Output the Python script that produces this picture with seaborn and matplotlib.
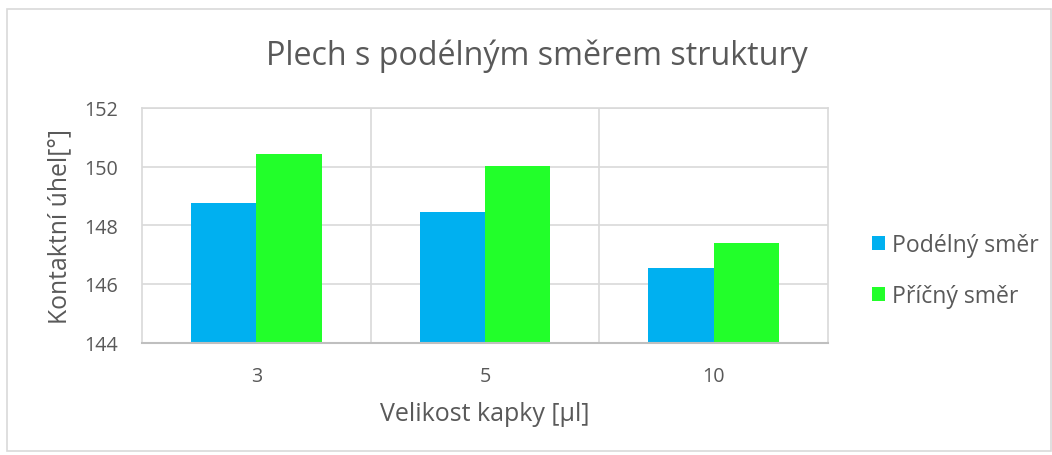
import seaborn as sns
import matplotlib.pyplot as plt
import pandas as pd
from matplotlib.patches import Rectangle

# data
kapky = ['3', '5', '10']
podelny = [148.75, 148.44, 146.54]
pricny = [150.43, 150.01, 147.40]
serie = ['Podélný směr', 'Příčný směr']

df = pd.DataFrame({
    'kapka': kapky * 2,
    'uhel': podelny + pricny,
    'smer': [serie[0]] * 3 + [serie[1]] * 3,
})

sns.set_style('white')
plt.rcParams['font.family'] = ['Open Sans', 'DejaVu Sans']
text_col = '#595959'
grid_col = '#D9D9D9'

fig = plt.figure(figsize=(10.52, 4.56), dpi=100)
ax = fig.add_axes([142 / 1052, 1 - 343.5 / 456, (828 - 142) / 1052, (343.5 - 109) / 456])

sns.barplot(data=df, x='kapka', y='uhel', hue='smer', order=kapky,
            palette=['#00B0F0', '#22FF2A'], width=0.57, gap=0,
            saturation=1, linewidth=0, ax=ax, legend=True)

ax.set_ylim(144, 152)
ax.set_xlim(-0.5, 2.5)
ax.set_yticks([144, 146, 148, 150, 152])
ax.set_xticks([0, 1, 2])
ax.set_xticks([0.5, 1.5], minor=True)
ax.grid(axis='y', color=grid_col, linewidth=1.2)
ax.grid(axis='x', which='minor', color=grid_col, linewidth=1.2)
ax.grid(axis='x', which='major', visible=False)
ax.set_axisbelow(True)
for s in ['top', 'right', 'left']:
    ax.spines[s].set_color(grid_col)
    ax.spines[s].set_linewidth(1.2)
ax.spines['bottom'].set_color('#BFBFBF')
ax.spines['bottom'].set_linewidth(1.5)
ax.tick_params(axis='both', which='both', length=0, labelsize=14.2, colors=text_col, pad=17)

fig.text(537 / 1052, 1 - 65 / 456, 'Plech s podélným směrem struktury',
         fontsize=23.2, color=text_col, ha='center', va='baseline')
ax.set_xlabel('Velikost kapky [µl]', fontsize=18, color=text_col, labelpad=11)
ax.set_ylabel('Kontaktní úhel[°]', fontsize=17.8, color=text_col, labelpad=9)

handles, labels = ax.get_legend_handles_labels()
ax.legend(handles, labels, loc='center left', bbox_to_anchor=(1.05, 0.307),
          frameon=False, fontsize=16.6, labelcolor=text_col, borderaxespad=0,
          handlelength=0.57, handleheight=0.57, handletextpad=0.3, labelspacing=1.15)

fig.patches.append(Rectangle((7 / 1052, 4 / 456), 1 - 8 / 1052, 1 - 14 / 456,
                             transform=fig.transFigure, fill=False,
                             edgecolor=grid_col, linewidth=1.2))

fig.savefig('out.png', dpi=100)
